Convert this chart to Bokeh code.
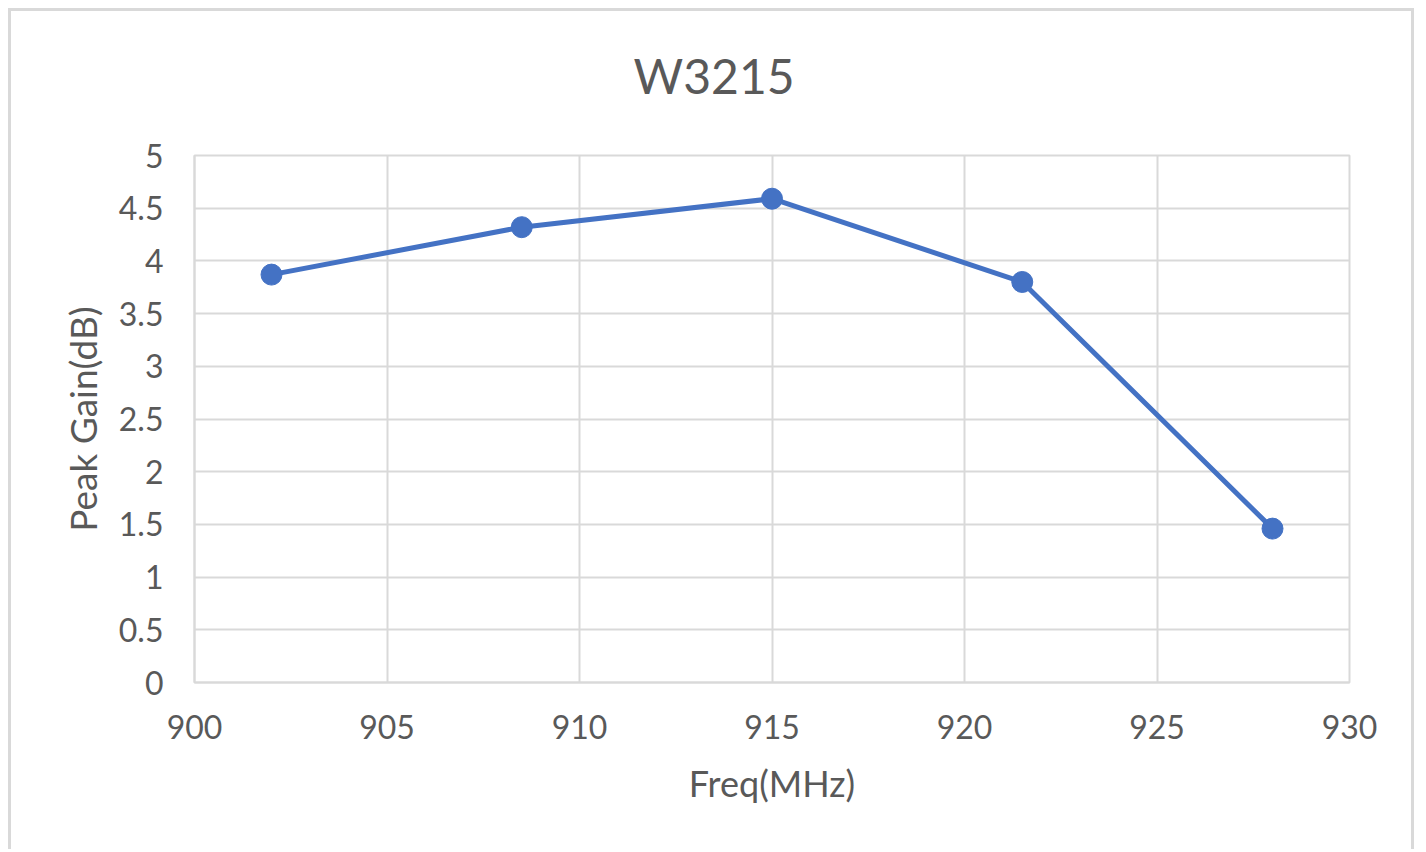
from bokeh.plotting import figure
from bokeh.models import Range1d, FixedTicker, Title
from bokeh.embed import file_html
from bokeh.resources import INLINE

title_text = "W3215"
freq = [902, 908.5, 915, 921.5, 928]
gain = [3.87, 4.32, 4.59, 3.80, 1.46]
x_ticks = [900, 905, 910, 915, 920, 925, 930]
y_ticks = [0, 0.5, 1, 1.5, 2, 2.5, 3, 3.5, 4, 4.5, 5]
y_tick_labels = ["0", "0.5", "1", "1.5", "2", "2.5", "3", "3.5", "4", "4.5", "5"]

FONT = "Lato"
TXT = "#595959"
GRID = "#d9d9d9"
BLUE = "#4472C4"

W, H = 1406, 841
p = figure(width=W, height=H, output_backend="svg", toolbar_location=None,
           x_range=Range1d(900, 930), y_range=Range1d(0, 5),
           min_border_left=183, min_border_right=68,
           min_border_top=144, min_border_bottom=H - 144 - 527)
p.styles = {"border": "3px solid #d9d9d9", "border-bottom": "none",
            "margin-left": "8px", "margin-top": "8px"}

# spacer between the frame and the chart title
p.add_layout(Title(text=" ", text_font_size="2px", standoff=48), "above")

p.title.text = title_text
p.title.align = "left"
p.title.offset = 439
p.title.text_font = FONT
p.title.text_font_size = "48px"
p.title.text_font_style = "normal"
p.title.text_color = TXT
p.title.standoff = 0

p.line(freq, gain, line_color=BLUE, line_width=5)
p.scatter(freq, gain, size=21, fill_color=BLUE, line_color=BLUE)

p.xaxis.ticker = FixedTicker(ticks=x_ticks)
p.yaxis.ticker = FixedTicker(ticks=y_ticks)
p.yaxis.major_label_overrides = {t: l for t, l in zip(y_ticks, y_tick_labels)}

for ax in (p.xaxis, p.yaxis):
    ax.major_tick_line_color = None
    ax.minor_tick_line_color = None
    ax.axis_line_color = GRID
    ax.axis_line_width = 2
    ax.major_label_text_font = FONT
    ax.major_label_text_font_size = "32px"
    ax.major_label_text_color = TXT
    ax.axis_label_text_font_style = "normal"
    ax.axis_label_text_color = TXT
    ax.axis_label_text_font = FONT

p.xaxis.axis_label = "Freq(MHz)"
p.yaxis.axis_label = "Peak Gain(dB)"
p.xaxis.axis_label_text_font_size = "36px"
p.yaxis.axis_label_text_font_size = "37px"
p.xaxis.major_label_standoff = 26
p.yaxis.major_label_standoff = 25
p.xaxis.axis_label_standoff = 19
p.yaxis.axis_label_standoff = 11

p.xgrid.grid_line_color = GRID
p.ygrid.grid_line_color = GRID
p.xgrid.grid_line_width = 2
p.ygrid.grid_line_width = 2
p.outline_line_color = GRID
p.outline_line_width = 2

open("out.html", "w").write(file_html(p, INLINE))
